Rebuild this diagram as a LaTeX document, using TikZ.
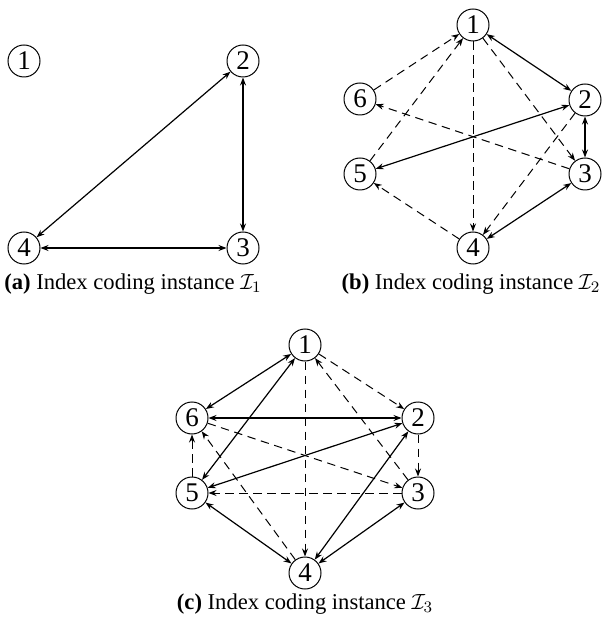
\documentclass[tikz,border=0pt]{standalone}
\usepackage{fontspec}
\setmainfont{Liberation Serif}
\usetikzlibrary{arrows.meta}
\begin{document}
\begin{tikzpicture}[x=0.5pt,y=-0.5pt,
  >={Stealth[length=4pt,width=3pt]},
  vtx/.style={circle,draw,line width=0.5pt,minimum size=16pt,inner sep=0pt,font=\fontsize{13.5}{14}\selectfont},
  sol/.style={line width=0.6pt},
  dsh/.style={line width=0.5pt,dash pattern=on 4.2pt off 2.8pt},
  captxt/.style={font=\fontsize{11.3}{13}\selectfont,inner sep=0pt}]
\useasboundingbox (0,0) rectangle (603,619);
% (a)
\node[vtx] (a1) at (24,61) {1};
\node[vtx] (a2) at (243,61) {2};
\node[vtx] (a3) at (243,248) {3};
\node[vtx] (a4) at (24,248) {4};
\draw[sol,<->] (a2) -- (a4);
\draw[sol,<->] (a2) -- (a3);
\draw[sol,<->] (a3) -- (a4);
\node[captxt] (ca) at (133,284) {\textbf{(a)} Index coding instance $\mathcal{I}_1$};
% (b)
\node[vtx] (b1) at (473,25) {1};
\node[vtx] (b2) at (585,100) {2};
\node[vtx] (b3) at (585,174) {3};
\node[vtx] (b4) at (473,248) {4};
\node[vtx] (b5) at (360,174) {5};
\node[vtx] (b6) at (360,99) {6};
\draw[sol,<->] (b1) -- (b2);
\draw[sol,<->] (b2) -- (b5);
\draw[sol,<->] (b2) -- (b3);
\draw[sol,<->] (b3) -- (b4);
\draw[dsh,->] (b1) -- (b3);
\draw[dsh,->] (b1) -- (b4);
\draw[dsh,->] (b6) -- (b1);
\draw[dsh,->] (b5) -- (b1);
\draw[dsh,->] (b3) -- (b6);
\draw[dsh,->] (b2) -- (b4);
\draw[dsh,->] (b4) -- (b5);
\node[captxt] (cb) at (471,284) {\textbf{(b)} Index coding instance $\mathcal{I}_2$};
% (c)
\node[vtx] (c1) at (305,345) {1};
\node[vtx] (c2) at (418,418) {2};
\node[vtx] (c3) at (418,493) {3};
\node[vtx] (c4) at (305,573) {4};
\node[vtx] (c5) at (192,493) {5};
\node[vtx] (c6) at (192,418) {6};
\draw[sol,<->] (c1) -- (c6);
\draw[sol,<->] (c1) -- (c5);
\draw[sol,<->] (c6) -- (c2);
\draw[sol,<->] (c5) -- (c2);
\draw[sol,<->] (c2) -- (c4);
\draw[sol,<->] (c5) -- (c4);
\draw[sol,<->] (c3) -- (c4);
\draw[dsh,->] (c1) -- (c2);
\draw[dsh,->] (c1) -- (c4);
\draw[dsh,->] (c3) -- (c1);
\draw[dsh,->] (c6) -- (c3);
\draw[dsh,->] (c2) -- (c3);
\draw[dsh,->] (c3) -- (c5);
\draw[dsh,->] (c5) -- (c6);
\draw[dsh,->] (c4) -- (c6);
\node[captxt] (cc) at (305,604) {\textbf{(c)} Index coding instance $\mathcal{I}_3$};
\end{tikzpicture}
\end{document}
